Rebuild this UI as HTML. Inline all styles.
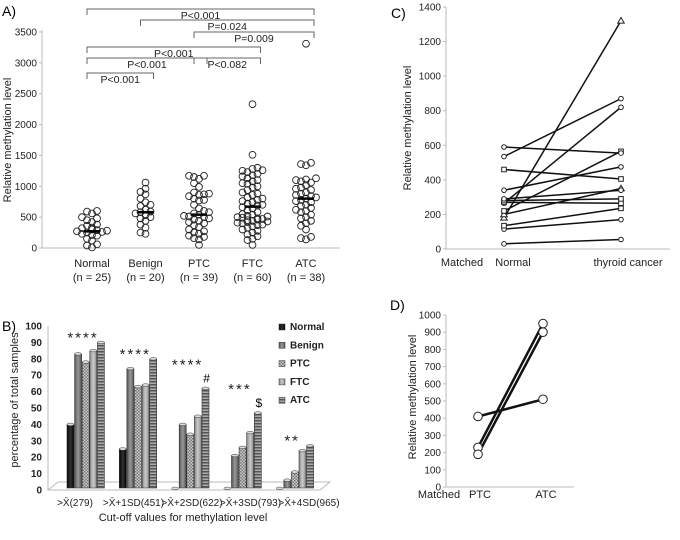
<!DOCTYPE html>
<html><head><meta charset="utf-8"><style>
body{margin:0;background:#fff;}
svg{font-family:"Liberation Sans",sans-serif;}
</style></head><body>
<svg id="fig" width="680" height="535" viewBox="0 0 680 535" xmlns="http://www.w3.org/2000/svg">
<defs>
<linearGradient id="gN" x1="0" x2="1"><stop offset="0" stop-color="#000"/><stop offset="0.5" stop-color="#333"/><stop offset="1" stop-color="#000"/></linearGradient>
<linearGradient id="gB" x1="0" x2="1"><stop offset="0" stop-color="#555"/><stop offset="0.5" stop-color="#999"/><stop offset="1" stop-color="#555"/></linearGradient>
<pattern id="pP" width="3" height="3" patternUnits="userSpaceOnUse"><rect width="3" height="3" fill="#ccc"/><rect width="1.5" height="1.5" fill="#777"/><rect x="1.5" y="1.5" width="1.5" height="1.5" fill="#777"/></pattern>
<linearGradient id="gF" x1="0" x2="1"><stop offset="0" stop-color="#888"/><stop offset="0.5" stop-color="#ccc"/><stop offset="1" stop-color="#888"/></linearGradient>
<pattern id="pA" width="3" height="3" patternUnits="userSpaceOnUse"><rect width="3" height="3" fill="#aaa"/><rect width="3" height="1.5" fill="#555"/></pattern>
</defs>
<g id="A"></g>
<g id="B"></g>
<g id="C"></g>
<g id="D"></g>
</svg>
<script>
// ---- Panel A data ----
const aCategories = ["Normal","Benign","PTC","FTC","ATC"];
const aCounts = ["(n = 25)","(n = 20)","(n = 39)","(n = 60)","(n = 38)"];
const aTicks = [0,500,1000,1500,2000,2500,3000,3500];
const aNormal = [10,40,60,120,150,200,210,230,250,260,270,280,290,300,320,330,360,380,420,450,480,500,560,590,600];
const aBenign = [230,250,330,380,440,480,500,530,560,580,590,620,680,700,740,800,870,910,960,1060];
const aPTC = [50,140,160,180,200,230,250,270,300,340,370,400,420,440,460,480,500,510,520,540,560,580,600,640,700,770,780,800,840,860,870,880,900,990,1120,1150,1170,1170,1050];
const aFTC = [50,130,150,190,220,250,280,300,330,350,370,380,400,410,420,430,440,450,460,470,480,490,500,510,520,540,550,580,610,640,660,690,720,740,760,780,800,820,860,880,900,940,980,1000,1040,1050,1080,1100,1130,1160,1180,1200,1230,1250,1260,1280,1300,1510,2330,700];
const aATC = [140,160,180,300,360,400,440,480,500,540,580,600,620,650,680,700,740,760,780,800,820,840,860,880,900,940,960,980,1020,1060,1080,1100,1110,1130,1340,1360,1380,3310];
const aMeans = [270,580,540,670,800];
const aSigLabels = ["P<0.001","P=0.024","P=0.009","P<0.001","P<0.001","P<0.082","P<0.001"];
const aSigFrom = [0,1,2,0,0,2,0];
const aSigTo = [4,4,4,3,2,3,1];
const aSigLevel = [0,1,2,3,4,4,5];
// ---- Panel B data ----
const bGroups = [">X̄(279)",">X̄+1SD(451)",">X̄+2SD(622)",">X̄+3SD(793)",">X̄+4SD(965)"];
const bSeries = ["Normal","Benign","PTC","FTC","ATC"];
const bNormal = [40,25,1,1,1];
const bBenign = [83,74,40,21,6];
const bPTC = [78,63,34,26,11];
const bFTC = [85,64,45,35,24];
const bATC = [90,80,62,47,27];
const bStars = ["****","****","****","***","**"];
const bMarks = ["","","#","$",""];
const bTicks = [0,10,20,30,40,50,60,70,80,90,100];
// ---- Panel C data ----
const cCats = ["Matched","Normal","thyroid cancer"];
const cNormal = [30,115,135,180,200,220,265,270,280,290,340,460,535,590];
const cCancer = [55,170,235,1320,350,565,820,265,290,340,475,405,870,555];
const cMarker = ["o","o","s","t","t","s","o","s","s","o","o","s","o","o"];
const cTicks = [0,200,400,600,800,1000,1200,1400];
// ---- Panel D data ----
const dCats = ["Matched","PTC","ATC"];
const dPTC = [410,230,190];
const dATC = [510,950,900];
const dTicks = [0,100,200,300,400,500,600,700,800,900,1000];

const NS="http://www.w3.org/2000/svg";
function mk(parent,tag,attrs,text){const e=document.createElementNS(NS,tag);for(const k in attrs)e.setAttribute(k,attrs[k]);if(text!==undefined)e.textContent=text;parent.appendChild(e);return e;}

// ===== Panel A =====
(function(){
const g=document.getElementById('A');
const y=v=>248-v*216/3500, x=i=>92+i*53.5;
let t=mk(g,'text',{x:2,y:16,'font-size':14});t.textContent="A)";

let ax=mk(g,'line',{x1:42,y1:30,x2:42,y2:248,stroke:'#bbb'});

let ax2=mk(g,'line',{x1:42,y1:248,x2:340,y2:248,stroke:'#bbb'});

aTicks.forEach(v=>{mk(g,'line',{x1:39,x2:42,y1:y(v),y2:y(v),stroke:'#bbb'});
 const tl=mk(g,'text',{x:37,y:y(v)+3.5,'font-size':10,'text-anchor':'end',fill:'#222'},v);
 });
const yt=mk(g,'text',{transform:'translate(11,140) rotate(-90)','font-size':11,'text-anchor':'middle',fill:'#222'},"Relative methylation level");

aCategories.forEach((c,i)=>{const l=mk(g,'text',{x:x(i),y:267,'font-size':11,'text-anchor':'middle',fill:'#222'},c);
 
 const n=mk(g,'text',{x:x(i),y:281,'font-size':11,'text-anchor':'middle',fill:'#222'},aCounts[i]);
 });
[aNormal,aBenign,aPTC,aFTC,aATC].forEach((arr,i)=>{
 const placed=[];
 arr.forEach((v,idx)=>{const py=y(v);let off=null;
  for(let k=0;k<7;k++){const o=((k+1)>>1)*5*(k%2?-1:1);
   if(placed.every(p=>Math.hypot(p[0]-o,p[1]-py)>=5)){off=o;break;}}
  if(off===null)off=((idx*3)%7-3)*5;
  placed.push([off,py]);
  const c=mk(g,'circle',{cx:x(i)+off,cy:py,r:3.4,fill:'none',stroke:'#222','stroke-width':0.9});
  });
 const m=mk(g,'line',{x1:x(i)-8,x2:x(i)+8,y1:y(aMeans[i]),y2:y(aMeans[i]),stroke:'#000','stroke-width':2.5});
 });
const lvY=[9,20,32,47,58,73];
aSigLabels.forEach((s,i)=>{const x1=x(aSigFrom[i])-5,x2=x(aSigTo[i])+8,yy=lvY[aSigLevel[i]];
 const b=mk(g,'path',{d:`M${x1},${yy+6}V${yy}H${x2}V${yy+6}`,fill:'none',stroke:'#666','stroke-width':1});
 
 const tt=mk(g,'text',{x:(x1+x2)/2,y:yy+10,'font-size':10.5,'text-anchor':'middle',fill:'#222'},s);
 });
})();

// ===== Panel B =====
(function(){
const g=document.getElementById('B');
const y=v=>490-v*1.64, gx=i=>67+i*52.3, bw=7.6, lx=i=>75+i*58.5;
let t=mk(g,'text',{x:2,y:331,'font-size':14},"B)");

const fl=mk(g,'path',{d:'M48,490 L58,482 L330,482 L320,490 Z',fill:'none',stroke:'#bbb'});

const ax=mk(g,'line',{x1:48,y1:326,x2:48,y2:490,stroke:'#bbb'});

bTicks.forEach(v=>{const tl=mk(g,'text',{x:42,y:y(v)+3.5,'font-size':10,'text-anchor':'end',fill:'#222','font-weight':'bold'},v);
 });
const yt=mk(g,'text',{transform:'translate(18,400) rotate(-90)','font-size':11,'text-anchor':'middle',fill:'#222'},"percentage of total samples");

const fills=['url(#gN)','url(#gB)','url(#pP)','url(#gF)','url(#pA)'];
const series=[bNormal,bBenign,bPTC,bFTC,bATC];
bGroups.forEach((gl,i)=>{
 series.forEach((s,j)=>{const bx=gx(i)+j*bw,top=y(s[i]);
  const r=mk(g,'rect',{x:bx,y:top,width:bw-0.6,height:488-top,fill:fills[j],stroke:'#333','stroke-width':0.6});
  
  mk(g,'ellipse',{cx:bx+bw/2-0.3,cy:top,rx:bw/2-0.3,ry:1.3,fill:'#ddd',stroke:'#333','stroke-width':0.5});});
 const l=mk(g,'text',{x:lx(i),y:506,'font-size':10,'text-anchor':'middle',fill:'#222'},gl);
 
 const top=Math.max(...series.map(s=>s[i]));
 const sy=y(top)-(bMarks[i]?25:6);
 const st=mk(g,'text',{x:gx(i)+16,y:sy+6,'font-size':15,'text-anchor':'middle',fill:'#222','letter-spacing':2},bStars[i]);
 
 if(bMarks[i]){const mm=mk(g,'text',{x:gx(i)+35,y:y(top)-6,'font-size':12,'text-anchor':'middle'},bMarks[i]);
  }});
const xt=mk(g,'text',{x:183,y:521,'font-size':11,'text-anchor':'middle',fill:'#222'},"Cut-off values for methylation   level");

bSeries.forEach((s,j)=>{const ly=329+j*18.3;
 const r=mk(g,'rect',{x:279,y:ly-5,width:6,height:6,fill:fills[j],stroke:'#333','stroke-width':0.5});
 
 const tl=mk(g,'text',{x:290,y:ly+1,'font-size':10,fill:'#222','font-weight':'bold'},s);
 });
})();

function marker(g,type,cx,cy,r){let e;
 if(type==='s')e=mk(g,'rect',{x:cx-r,y:cy-r,width:2*r,height:2*r,fill:'#fff',stroke:'#222','stroke-width':1});
 else if(type==='t')e=mk(g,'path',{d:`M${cx},${cy-r-1}L${cx+r+1},${cy+r}L${cx-r-1},${cy+r}Z`,fill:'#fff',stroke:'#222','stroke-width':1});
 else e=mk(g,'circle',{cx:cx,cy:cy,r:r,fill:'#fff',stroke:'#222','stroke-width':1});
 }

// ===== Panel C =====
(function(){
const g=document.getElementById('C');
const y=v=>249-v*242/1400, xs=[462,504,621];
let t=mk(g,'text',{x:391,y:18,'font-size':14},"C)");

const ax=mk(g,'line',{x1:446,y1:7,x2:446,y2:249,stroke:'#bbb'});

const ax2=mk(g,'line',{x1:446,y1:249,x2:670,y2:249,stroke:'#bbb'});

cTicks.forEach(v=>{mk(g,'line',{x1:443,x2:446,y1:y(v),y2:y(v),stroke:'#bbb'});
 const tl=mk(g,'text',{x:441,y:y(v)+3.5,'font-size':10,'text-anchor':'end',fill:'#222'},v);
 });
const yt=mk(g,'text',{transform:'translate(411,128) rotate(-90)','font-size':11,'text-anchor':'middle',fill:'#222'},"Relative methylation level");

const lx=[462,513,628];
cCats.forEach((c,i)=>{const l=mk(g,'text',{x:lx[i],y:266,'font-size':11,'text-anchor':'middle',fill:'#222'},c);
 });
cNormal.forEach((v,i)=>{const ln=mk(g,'line',{x1:xs[1],y1:y(v),x2:xs[2],y2:y(cCancer[i]),stroke:'#111','stroke-width':1.5});
 });
cNormal.forEach((v,i)=>{marker(g,cMarker[i],xs[1],y(v),2.3);marker(g,cMarker[i],xs[2],y(cCancer[i]),2.3);});
})();

// ===== Panel D =====
(function(){
const g=document.getElementById('D');
const y=v=>487-v*0.172, xs=[439,478,543];
let t=mk(g,'text',{x:390,y:310,'font-size':14},"D)");

const ax=mk(g,'line',{x1:446,y1:315,x2:446,y2:487,stroke:'#bbb'});

const ax2=mk(g,'line',{x1:446,y1:487,x2:574,y2:487,stroke:'#bbb'});

dTicks.forEach(v=>{mk(g,'line',{x1:443,x2:446,y1:y(v),y2:y(v),stroke:'#bbb'});
 const tl=mk(g,'text',{x:441,y:y(v)+3.5,'font-size':10,'text-anchor':'end',fill:'#222'},v);
 });
const yt=mk(g,'text',{transform:'translate(416,397) rotate(-90)','font-size':11,'text-anchor':'middle',fill:'#222'},"Relative methylation level");

const lx=[439,480,546];
dCats.forEach((c,i)=>{const l=mk(g,'text',{x:lx[i],y:498,'font-size':11,'text-anchor':'middle',fill:'#222'},c);
 });
dPTC.forEach((v,i)=>{const ln=mk(g,'line',{x1:xs[1],y1:y(v),x2:xs[2],y2:y(dATC[i]),stroke:'#111','stroke-width':2.5});
 });
dPTC.forEach((v,i)=>{marker(g,'o',xs[1],y(v),4.3);marker(g,'o',xs[2],y(dATC[i]),4.3);});
})();
</script>
</body></html>
